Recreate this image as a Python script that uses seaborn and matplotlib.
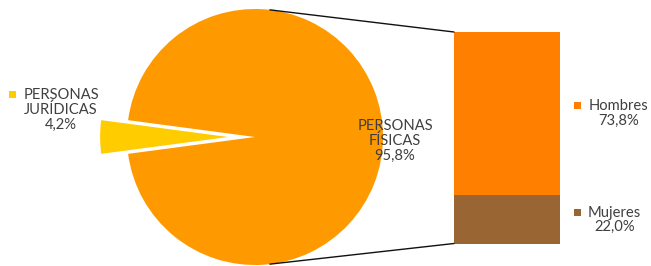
import numpy as np
import matplotlib
matplotlib.use("Agg")
import matplotlib.pyplot as plt
from matplotlib.patches import ConnectionPatch, Rectangle
import seaborn as sns

# ---- data ----
pie_labels = ["PERSONAS\nJURÍDICAS", "PERSONAS\nFÍSICAS"]
pie_values = [4.2, 95.8]
bar_labels = ["Hombres", "Mujeres"]
bar_values = [73.8, 22.0]

# ---- style ----
sns.set_theme(style="white")
plt.rcParams["font.family"] = ["Lato", "DejaVu Sans"]
TXT = "#3f3f3f"
pie_colors = ["#FFCC00", "#FF9900"]
bar_colors = ["#FF8000", "#996633"]

W, H = 651, 266
fig = plt.figure(figsize=(W / 100, H / 100), dpi=100)
fig.patch.set_facecolor("white")

# pie axes (pixel geometry of the circle)
cx, cy, r = 255, 137, 128
axp = fig.add_axes([(cx - r) / W, (H - cy - r) / H, 2 * r / W, 2 * r / H])
share = pie_values[0] / sum(pie_values) * 360
axp.pie(pie_values, colors=pie_colors, startangle=180 - share / 2,
        explode=[0.21, 0], radius=1, counterclock=True,
        wedgeprops=dict(linewidth=0))
axp.set_xlim(-1, 1)
axp.set_ylim(-1, 1)
axp.set_aspect("auto")
axp.axis("off")

# bar axes
bx0, bx1, by0, by1 = 454, 560, 32, 243.5
axb = fig.add_axes([bx0 / W, (H - by1) / H, (bx1 - bx0) / W, (by1 - by0) / H])
bottom = 0
for lab, val, col in zip(bar_labels[::-1], bar_values[::-1], bar_colors[::-1]):
    axb.bar(0, val, width=1, bottom=bottom, color=col, linewidth=0)
    bottom += val
axb.set_xlim(-0.5, 0.5)
axb.set_ylim(0, sum(bar_values))
axb.axis("off")

# connector lines
theta = np.deg2rad(83.3)
total = sum(bar_values)
for sgn, ybar in [(1, total), (-1, 0)]:
    con = ConnectionPatch(xyA=(np.cos(theta), sgn * np.sin(theta)), coordsA=axp.transData,
                          xyB=(-0.5, ybar), coordsB=axb.transData,
                          color="#111111", linewidth=1.0)
    fig.add_artist(con)

# overlay for text
axt = fig.add_axes([0, 0, 1, 1])
axt.set_xlim(0, W)
axt.set_ylim(H, 0)
axt.axis("off")
axt.patch.set_alpha(0)

fs = 10.6
ls = 1.05
def fmt(v):
    return f"{v:.1f}%".replace(".", ",")

axt.text(61, 110, f"{pie_labels[0]}\n{fmt(pie_values[0])}",
         ha="center", va="center", multialignment="center", fontsize=fs,
         color=TXT, linespacing=ls)
axt.add_patch(Rectangle((8.5, 91), 7, 7, color=pie_colors[0], linewidth=0))

axt.text(395, 141, f"{pie_labels[1]}\n{fmt(pie_values[1])}",
         ha="center", va="center", multialignment="center", fontsize=fs,
         color=TXT, linespacing=ls)

for lab, val, ty, tx in zip(bar_labels, bar_values, [113.5, 220], [618.5, 614.5]):
    axt.text(tx, ty, f"{lab}\n{fmt(val)}",
             ha="center", va="center", multialignment="center", fontsize=fs,
             color=TXT, linespacing=ls)
for col, my in zip(bar_colors, [105.5, 212]):
    axt.add_patch(Rectangle((573.5, my - 3.5), 7, 7, color=col, linewidth=0))

fig.savefig("out.png", dpi=100, facecolor="white")
